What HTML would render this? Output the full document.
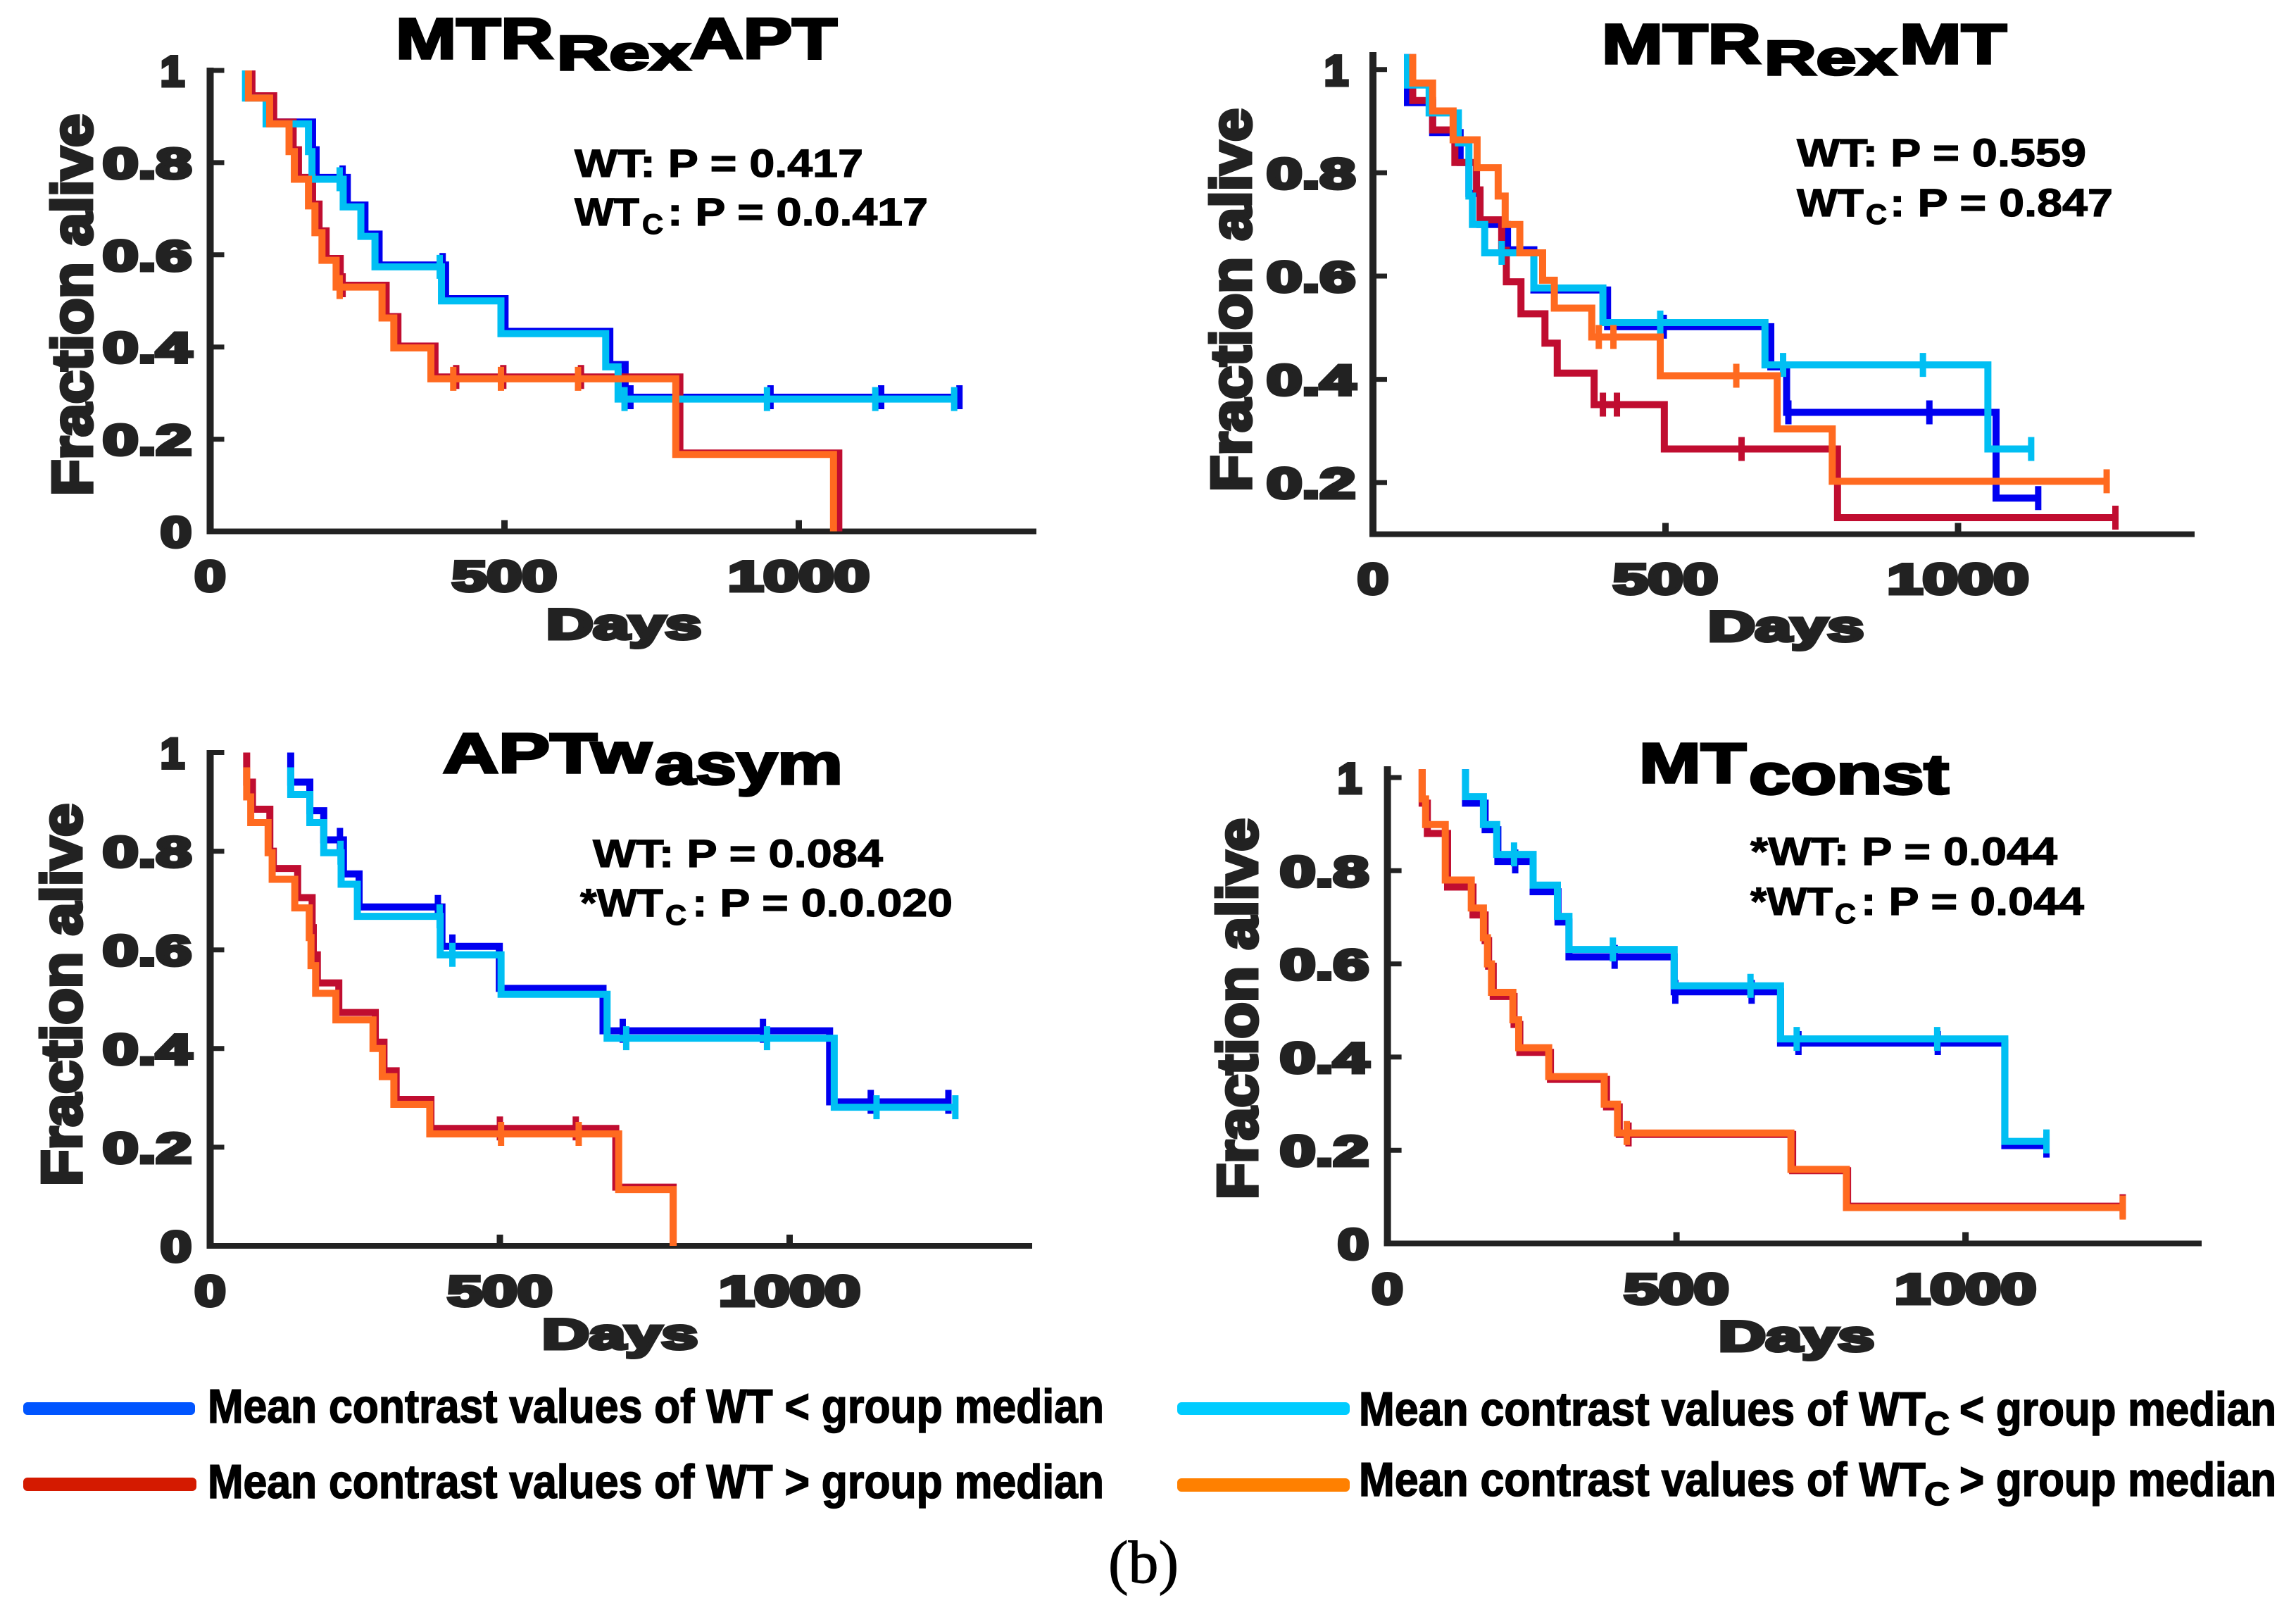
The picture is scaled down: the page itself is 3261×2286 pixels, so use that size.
<!DOCTYPE html>
<html lang="en">
<head>
<meta charset="utf-8">
<title>Kaplan-Meier survival curves</title>
<style>
html,body{margin:0;padding:0;background:#fff;}
svg{display:block;}
text{font-family:"Liberation Sans",sans-serif;font-weight:bold;}
.title{fill:#000;stroke:#000;stroke-width:3.5px;}
.note{fill:#000;stroke:#000;stroke-width:1.2px;}
.leg{fill:#000;stroke:#000;stroke-width:1.6px;}
.cap{font-family:"Liberation Serif",serif;font-weight:normal;fill:#000;stroke:#000;stroke-width:1px;}
.ax{fill:#222;stroke:#222;stroke-width:5px;}
</style>
</head>
<body>
<svg id="figure" xmlns="http://www.w3.org/2000/svg" width="3261" height="2286" viewBox="0 0 3261 2286">
<rect width="3261" height="2286" fill="#fff"/>

<g>
<text class="title" x="562" y="83" font-size="82" textLength="224" lengthAdjust="spacingAndGlyphs">MTR</text>
<text class="title" x="791" y="99" font-size="69" textLength="189" lengthAdjust="spacingAndGlyphs">Rex</text>
<text class="title" x="980" y="83" font-size="82" textLength="209" lengthAdjust="spacingAndGlyphs">APT</text>
</g>
<g>
<text class="title" x="2275" y="90" font-size="80" textLength="226" lengthAdjust="spacingAndGlyphs">MTR</text>
<text class="title" x="2506" y="106" font-size="69" textLength="187" lengthAdjust="spacingAndGlyphs">Rex</text>
<text class="title" x="2698" y="90" font-size="80" textLength="152" lengthAdjust="spacingAndGlyphs">MT</text>
</g>
<g>
<text class="title" x="629" y="1097" font-size="80" textLength="296" lengthAdjust="spacingAndGlyphs">APTw</text>
<text class="title" x="930" y="1113" font-size="82" textLength="267" lengthAdjust="spacingAndGlyphs">asym</text>
</g>
<g>
<text class="title" x="2328" y="1111" font-size="80" textLength="152" lengthAdjust="spacingAndGlyphs">MT</text>
<text class="title" x="2484" y="1127" font-size="80" textLength="284" lengthAdjust="spacingAndGlyphs">const</text>
</g>

<g>
<text class="note" x="816" y="251" font-size="56" textLength="410" lengthAdjust="spacingAndGlyphs">WT: P = 0.417</text>
<text class="note" x="816" y="320" font-size="56" textLength="92" lengthAdjust="spacingAndGlyphs">WT</text>
<text class="note" x="912" y="332" font-size="40" textLength="30" lengthAdjust="spacingAndGlyphs">C</text>
<text class="note" x="948" y="320" font-size="56" textLength="370" lengthAdjust="spacingAndGlyphs">: P = 0.0.417</text>
</g>
<g>
<text class="note" x="2552" y="236" font-size="56" textLength="411" lengthAdjust="spacingAndGlyphs">WT: P = 0.559</text>
<text class="note" x="2552" y="307" font-size="56" textLength="95" lengthAdjust="spacingAndGlyphs">WT</text>
<text class="note" x="2650" y="318" font-size="40" textLength="30" lengthAdjust="spacingAndGlyphs">C</text>
<text class="note" x="2684" y="307" font-size="56" textLength="317" lengthAdjust="spacingAndGlyphs">: P = 0.847</text>
</g>
<g>
<text class="note" x="842" y="1231" font-size="56" textLength="412" lengthAdjust="spacingAndGlyphs">WT: P = 0.084</text>
<text class="note" x="824" y="1301" font-size="56" textLength="118" lengthAdjust="spacingAndGlyphs">*WT</text>
<text class="note" x="945" y="1313" font-size="40" textLength="30" lengthAdjust="spacingAndGlyphs">C</text>
<text class="note" x="983" y="1301" font-size="56" textLength="370" lengthAdjust="spacingAndGlyphs">: P = 0.0.020</text>
</g>
<g>
<text class="note" x="2486" y="1228" font-size="56" textLength="436" lengthAdjust="spacingAndGlyphs">*WT: P = 0.044</text>
<text class="note" x="2486" y="1299" font-size="56" textLength="117" lengthAdjust="spacingAndGlyphs">*WT</text>
<text class="note" x="2606" y="1311" font-size="40" textLength="30" lengthAdjust="spacingAndGlyphs">C</text>
<text class="note" x="2643" y="1299" font-size="56" textLength="317" lengthAdjust="spacingAndGlyphs">: P = 0.044</text>
</g>

<g>
<g>
<rect x="33" y="1991" width="244" height="18" rx="6" fill="#0055ff"/>
<text class="leg" x="295" y="2020" font-size="68" textLength="1273" lengthAdjust="spacingAndGlyphs">Mean contrast values of WT &lt; group median</text>
</g>
<g>
<rect x="33" y="2098" width="246" height="19" rx="6" fill="#d41a00"/>
<text class="leg" x="295" y="2127" font-size="68" textLength="1273" lengthAdjust="spacingAndGlyphs">Mean contrast values of WT &gt; group median</text>
</g>
<g>
<rect x="1672" y="1991" width="245" height="18" rx="6" fill="#00ccff"/>
<text class="leg" x="1930" y="2024" font-size="68" textLength="805" lengthAdjust="spacingAndGlyphs">Mean contrast values of WT</text>
<text class="leg" x="2733" y="2037" font-size="46" textLength="36" lengthAdjust="spacingAndGlyphs">C</text>
<text class="leg" x="2783" y="2024" font-size="68" textLength="450" lengthAdjust="spacingAndGlyphs">&lt; group median</text>
</g>
<g>
<rect x="1672" y="2099" width="245" height="19" rx="6" fill="#ff8000"/>
<text class="leg" x="1930" y="2124" font-size="68" textLength="805" lengthAdjust="spacingAndGlyphs">Mean contrast values of WT</text>
<text class="leg" x="2733" y="2137" font-size="46" textLength="36" lengthAdjust="spacingAndGlyphs">C</text>
<text class="leg" x="2783" y="2124" font-size="68" textLength="450" lengthAdjust="spacingAndGlyphs">&gt; group median</text>
</g>
</g>
<text class="cap" x="1574" y="2247" font-size="86" textLength="100" lengthAdjust="spacingAndGlyphs">(b)</text>
</svg>

<script>
// ---- shared tick labels ----
const xTickDays = [0, 500, 1000];
const xTickLabels = ['0', '500', '1000'];
const yTickValuesFull = [0, 0.2, 0.4, 0.6, 0.8, 1];
const yTickLabelsFull = ['0', '0.2', '0.4', '0.6', '0.8', '1'];
const yTickValuesCut = [0.2, 0.4, 0.6, 0.8, 1];
const yTickLabelsCut = ['0.2', '0.4', '0.6', '0.8', '1'];

// ---- MTRRex APT ----
const aptWtLowTimes = [67,102,174,180,233,263,287,400,501,679,705];
const aptWtLowSurv = [1,.945,.888,.828,.768,.708,.645,.578,.505,.434,.362,.291];
const aptWtLowCens = [225,395,714,952,1140,1273];
const aptWtHighTimes = [71,108,141,150,174,185,197,221,299,319,382,798,1068];
const aptWtHighSurv = [1,.945,.888,.828,.768,.71,.652,.592,.534,.466,.402,.335,.17,0];
const aptWtHighCens = [225,418,498,630];
const aptWtcLowTimes = [60,95,167,173,226,256,280,393,494,672,693];
const aptWtcLowSurv = [1,.94,.884,.824,.764,.704,.64,.574,.5,.429,.357,.287];
const aptWtcLowCens = [220,390,704,946,1130,1264];
const aptWtcHighTimes = [65,101,134,143,167,178,190,214,292,312,375,791,1059];
const aptWtcHighSurv = [1,.94,.884,.824,.764,.706,.648,.588,.53,.463,.398,.331,.167,0];
const aptWtcHighCens = [220,413,494,625];

// ---- MTRRex MT ----
const mtWtLowTimes = [59,102,149,164,183,230,275,401,680,707,1065];
const mtWtLowSurv = [1.03,.936,.878,.82,.76,.7,.651,.573,.502,.424,.336,.17];
const mtWtLowCens = [497,710,951,1137];
const mtWtHighTimes = [68,102,140,177,183,220,228,253,294,315,378,498,794];
const mtWtHighSurv = [1.03,.94,.883,.82,.767,.709,.65,.589,.527,.47,.412,.351,.265,.132];
const mtWtHighCens = [393,417,630,1269];
const mtWtcLowTimes = [59,96,146,164,170,191,275,393,670,1051];
const mtWtcLowSurv = [1.03,.97,.916,.858,.755,.7,.645,.577,.51,.428,.265];
const mtWtcLowCens = [220,491,701,940,1125];
const mtWtcHighTimes = [68,102,137,178,214,226,251,290,310,374,491,691,785];
const mtWtcHighSurv = [1.03,.974,.92,.864,.81,.755,.7,.645,.592,.538,.482,.407,.304,.2025];
const mtWtcHighCens = [386,411,621,1254];

// ---- APTw asym ----
const asymWtLowTimes = [139,172,196,230,257,400,499,678,1069];
const asymWtLowSurv = [1,.94,.882,.823,.754,.687,.607,.522,.436,.292];
const asymWtLowCens = [224,393,418,712,954,1140,1274];
const asymWtHighTimes = [63,73,103,109,151,176,178,185,222,285,300,321,381,700,799];
const asymWtHighSurv = [1,.94,.885,.8,.765,.706,.645,.59,.533,.473,.413,.355,.297,.238,.119,0];
const asymWtHighCens = [500,631];
const asymWtcLowTimes = [139,172,196,226,254,397,502,685,1077];
const asymWtcLowSurv = [.97,.915,.858,.797,.733,.668,.59,.51,.421,.281];
const asymWtcLowCens = [225,396,418,718,961,1150,1286];
const asymWtcHighTimes = [63,70,100,107,146,171,174,182,217,281,297,317,379,705,799];
const asymWtcHighSurv = [.97,.91,.858,.797,.743,.685,.625,.568,.512,.458,.4,.343,.287,.227,.114,0];
const asymWtcHighCens = [502,636];

// ---- MT const ----
const constWtLowTimes = [135,169,191,252,295,314,496,680,1068];
const constWtLowSurv = [1.018,.945,.888,.82,.755,.69,.615,.54,.43,.21];
const constWtLowCens = [221,393,498,630,711,952,1140];
const constWtHighTimes = [60,69,104,148,169,175,183,219,229,282,379,401,701,796];
const constWtHighSurv = [1.018,.945,.88,.765,.705,.65,.595,.53,.47,.41,.352,.293,.234,.156,.08];
const constWtHighCens = [417,1272];
const constWtcLowTimes = [135,166,189,252,294,314,496,680,1068];
const constWtcLowSurv = [1.018,.959,.899,.835,.769,.702,.631,.553,.439,.219];
const constWtcLowCens = [219,390,628,708,951,1140];
const constWtcHighTimes = [60,66,100,145,166,173,180,217,227,279,375,398,698,794];
const constWtcHighSurv = [1.018,.954,.899,.78,.72,.656,.6,.539,.48,.42,.358,.299,.237,.159,.077];
const constWtcHighCens = [414,1272];

// ---- rendering ----
const NS = 'http://www.w3.org/2000/svg';
const figure = document.getElementById('figure');
const seriesColors = {wtLow:'#0000f0', wtHigh:'#c00d30', wtcLow:'#00bff3', wtcHigh:'#ff6a20'};
const digitWidths = {'0':44,'1':34,'0.2':126,'0.4':126,'0.6':126,'0.8':126,'500':149,'1000':201};

function make(tag, parent, attrs) {
  const el = document.createElementNS(NS, tag);
  for (const k in attrs) el.setAttribute(k, attrs[k]);
  parent.appendChild(el);
  return el;
}
function fitText(parent, str, x, y, width, size) {
  const el = make('text', parent, {class:'ax', x:x, y:y, 'font-size':size, textLength:width, lengthAdjust:'spacingAndGlyphs'});
  el.textContent = str;
  return el;
}
function survivalAt(times, surv, t) {
  let v = surv[0];
  for (let i = 0; i < times.length; i++) if (times[i] <= t) v = surv[i + 1];
  return v;
}

const panels = [
  {key:'mtr-rex-apt', x0:298.5, pxPerDay:.836, y1:100, pxPerUnit:654.5, yBase:0, yTop:96, xEnd:1472,
   yTicks:yTickValuesFull, yLabels:yTickLabelsFull, daysX:776, daysW:220, daysY:907, xLabelY:839,
   fracX:130, fracBottom:704, fracLen:542, labelRight:272,
   series:[
    ['wtLow',aptWtLowTimes,aptWtLowSurv,aptWtLowCens],
    ['wtHigh',aptWtHighTimes,aptWtHighSurv,aptWtHighCens],
    ['wtcLow',aptWtcLowTimes,aptWtcLowSurv,aptWtcLowCens],
    ['wtcHigh',aptWtcHighTimes,aptWtcHighSurv,aptWtcHighCens]]},
  {key:'mtr-rex-mt', x0:1950, pxPerDay:.831, y1:98.8, pxPerUnit:733, yBase:.1, yTop:74, xEnd:3117,
   yTicks:yTickValuesCut, yLabels:yTickLabelsCut, daysX:2426, daysW:221, daysY:910, xLabelY:843,
   fracX:1776, fracBottom:698, fracLen:544, labelRight:1925,
   series:[
    ['wtLow',mtWtLowTimes,mtWtLowSurv,mtWtLowCens],
    ['wtHigh',mtWtHighTimes,mtWtHighSurv,mtWtHighCens],
    ['wtcLow',mtWtcLowTimes,mtWtcLowSurv,mtWtcLowCens],
    ['wtcHigh',mtWtcHighTimes,mtWtcHighSurv,mtWtcHighCens]]},
  {key:'apt-w-asym', x0:298.5, pxPerDay:.823, y1:1068.5, pxPerUnit:700.5, yBase:0, yTop:1065, xEnd:1466,
   yTicks:yTickValuesFull, yLabels:yTickLabelsFull, daysX:770, daysW:221, daysY:1915, xLabelY:1854,
   fracX:115, fracBottom:1684, fracLen:543, labelRight:272,
   series:[
    ['wtLow',asymWtLowTimes,asymWtLowSurv,asymWtLowCens],
    ['wtHigh',asymWtHighTimes,asymWtHighSurv,asymWtHighCens],
    ['wtcLow',asymWtcLowTimes,asymWtcLowSurv,asymWtcLowCens],
    ['wtcHigh',asymWtcHighTimes,asymWtcHighSurv,asymWtcHighCens]]},
  {key:'mt-const', x0:1970.6, pxPerDay:.821, y1:1104, pxPerUnit:661.5, yBase:0, yTop:1088, xEnd:3127,
   yTicks:yTickValuesFull, yLabels:yTickLabelsFull, daysX:2441, daysW:221, daysY:1918, xLabelY:1851,
   fracX:1785, fracBottom:1703, fracLen:541, labelRight:1944,
   series:[
    ['wtLow',constWtLowTimes,constWtLowSurv,constWtLowCens],
    ['wtHigh',constWtHighTimes,constWtHighSurv,constWtHighCens],
    ['wtcLow',constWtcLowTimes,constWtcLowSurv,constWtcLowCens],
    ['wtcHigh',constWtcHighTimes,constWtcHighSurv,constWtcHighCens]]}
];

panels.forEach(function (p) {
  const xScale = function (d) { return p.x0 + d * p.pxPerDay; };
  const yScale = function (v) { return p.y1 + (1 - v) * p.pxPerUnit; };
  const yBottom = yScale(p.yBase);

  const g = make('g', figure, {});
  
  

  // axes
  const yAxis = make('line', g, {x1:p.x0, x2:p.x0, y1:p.yTop, y2:yBottom + 4, stroke:'#222', 'stroke-width':10});
  
  
  const xAxis = make('line', g, {x1:p.x0 - 5, x2:p.xEnd, y1:yBottom, y2:yBottom, stroke:'#222', 'stroke-width':8});
  
  

  p.yTicks.forEach(function (v, i) {
    const y = yScale(v);
    if (v !== p.yBase) {
      const tick = make('line', g, {x1:p.x0, x2:p.x0 + 20, y1:y, y2:y, stroke:'#222', 'stroke-width':7});
      
      
    }
    const lab = p.yLabels[i];
    const w = digitWidths[lab];
    const right = lab === '1' ? p.labelRight - 10 : p.labelRight;
    const t = fitText(g, lab, right - w, y + 22, w, 60);
    
    
  });

  xTickDays.forEach(function (d, i) {
    const x = xScale(d);
    if (d > 0) {
      const tick = make('line', g, {x1:x, x2:x, y1:yBottom, y2:yBottom - 16, stroke:'#222', 'stroke-width':9});
      
      
    }
    const lab = xTickLabels[i];
    const w = digitWidths[lab];
    const t = fitText(g, lab, x - w / 2, p.xLabelY, w, 60);
    
    
  });

  const days = fitText(g, 'Days', p.daysX, p.daysY, p.daysW, 60);
  
  

  const frac = make('text', g, {class:'ax', 'font-size':80, textLength:p.fracLen, lengthAdjust:'spacingAndGlyphs',
    transform:'translate(' + p.fracX + ',' + p.fracBottom + ') rotate(-90)'});
  frac.textContent = 'Fraction alive';
  
  

  // survival curves
  p.series.forEach(function (s) {
    const kind = s[0], times = s[1], surv = s[2], cens = s[3];
    const color = seriesColors[kind];
    const sg = make('g', g, {});
    
    

    let d = 'M' + xScale(times[0]) + ' ' + yScale(surv[0]);
    for (let i = 0; i < times.length; i++) {
      d += 'H' + xScale(times[i]) + 'V' + yScale(surv[i + 1]);
    }
    const lastT = Math.max(times[times.length - 1], cens.length ? cens[cens.length - 1] : 0);
    d += 'H' + xScale(lastT);
    const line = make('path', sg, {d:d, fill:'none', stroke:color, 'stroke-width':10, 'stroke-linejoin':'miter'});
    
    

    cens.forEach(function (c) {
      const x = xScale(c), y = yScale(survivalAt(times, surv, c));
      const mark = make('line', sg, {x1:x, x2:x, y1:y - 17, y2:y + 17, stroke:color, 'stroke-width':9});
      
      
    });
  });
});
</script>
</body>
</html>
